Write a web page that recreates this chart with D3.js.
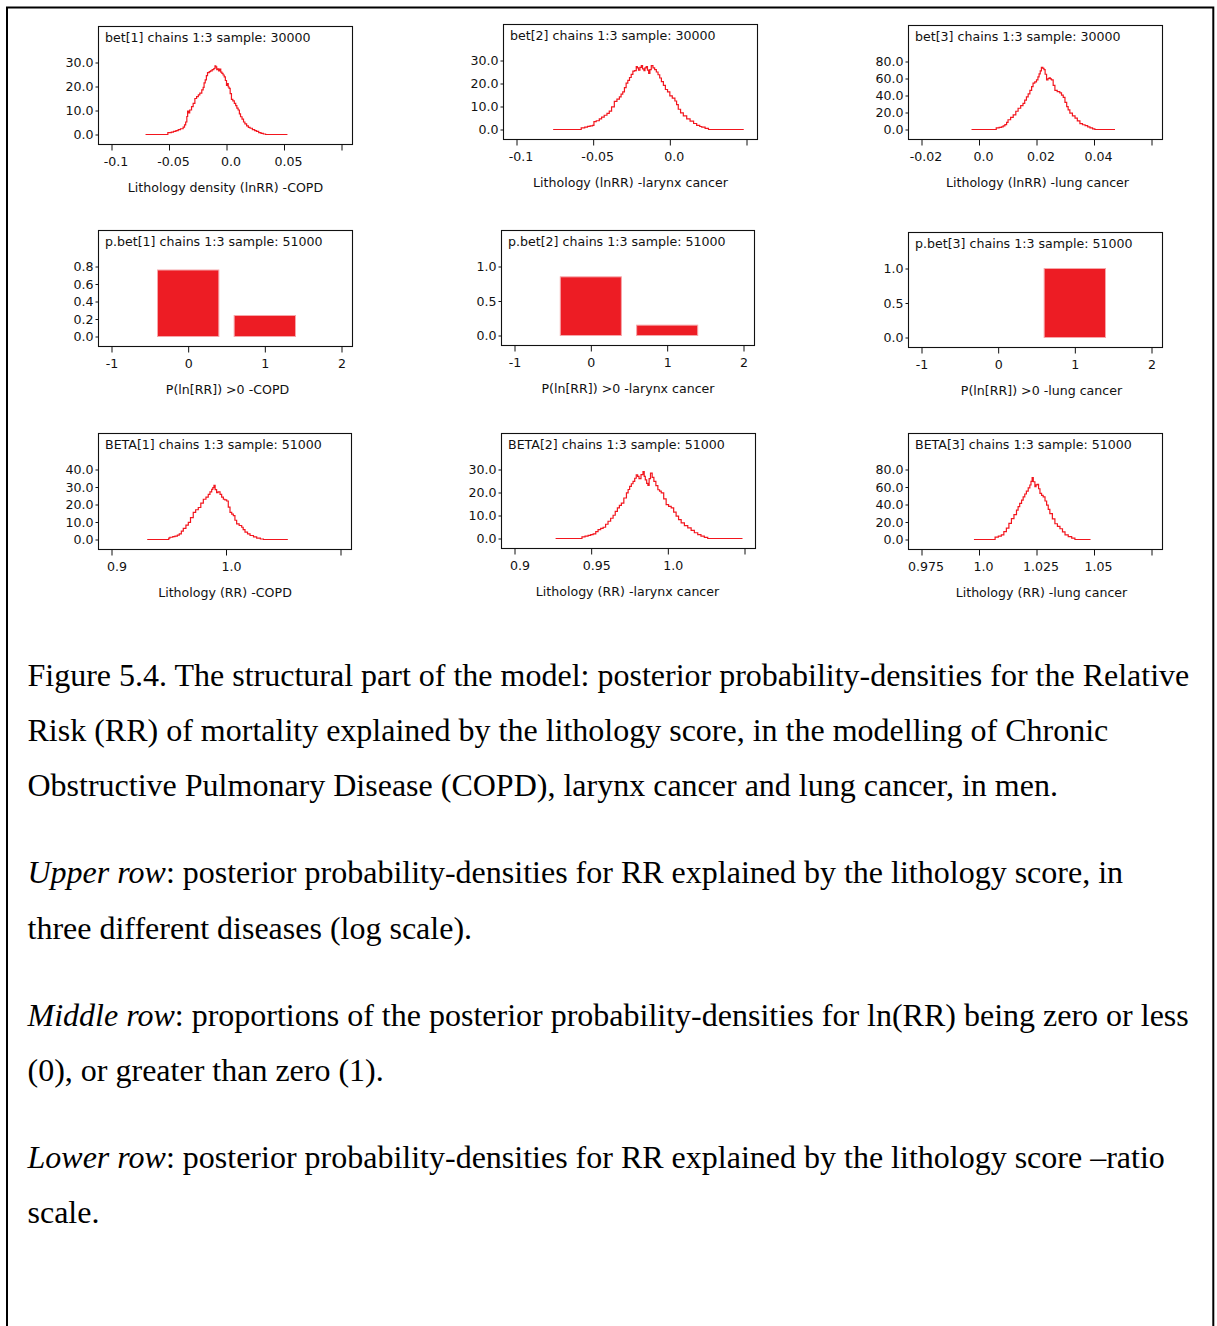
<!DOCTYPE html>
<html>
<head>
<meta charset="utf-8">
<script src="https://cdn.jsdelivr.net/npm/d3@7"></script>
<style>
  body { margin: 0; background: #fff; }
  svg { display: block; }
</style>
</head>
<body>
<svg id="fig" width="1217" height="1326"></svg>
<script>
// ---- Posterior densities, ln(RR) scale: [value, density] ----
const bet1Density = [[-0.0704,0],[-0.0513,0],[-0.0510,0.8],[-0.0480,1.0],[-0.0461,1.3],[-0.0440,1.6],[-0.0420,2.0],[-0.0400,2.4],[-0.0377,3.1],[-0.0365,4.0],[-0.0355,5.2],[-0.0345,7.5],[-0.0338,9.8],[-0.0330,9.0],[-0.0320,10.2],[-0.0304,11.6],[-0.0290,13.0],[-0.0275,15.0],[-0.0260,15.8],[-0.0245,16.5],[-0.0232,17.2],[-0.0215,18.6],[-0.0203,19.6],[-0.0195,21.5],[-0.0185,22.8],[-0.0175,24.5],[-0.0165,25.8],[-0.0150,26.2],[-0.0139,26.5],[-0.0125,27.0],[-0.0110,27.5],[-0.0100,28.6],[-0.0093,28.2],[-0.0085,27.0],[-0.0078,27.4],[-0.0068,26.5],[-0.0058,27.3],[-0.0050,26.0],[-0.0040,25.5],[-0.0030,24.8],[-0.0020,24.0],[-0.0010,22.5],[0.0000,20.5],[0.0008,21.2],[0.0015,19.8],[0.0023,19.2],[0.0032,17.0],[0.0043,14.6],[0.0055,14.0],[0.0068,13.0],[0.0080,12.0],[0.0090,11.0],[0.0101,10.2],[0.0112,8.6],[0.0122,7.4],[0.0135,6.4],[0.0148,5.2],[0.0160,4.4],[0.0175,3.6],[0.0190,3.0],[0.0205,2.6],[0.0225,2.0],[0.0245,1.6],[0.0261,1.3],[0.0280,0.8],[0.0300,0.5],[0.0320,0.2],[0.0340,0],[0.0530,0]];

const bet2Density = [[-0.0761,0],[-0.0581,0],[-0.0578,0.7],[-0.0555,1.0],[-0.0537,1.4],[-0.0520,1.6],[-0.0504,1.8],[-0.0495,3.4],[-0.0480,3.8],[-0.0460,4.6],[-0.0445,5.4],[-0.0428,6.2],[-0.0410,7.0],[-0.0395,8.0],[-0.0380,9.8],[-0.0362,12.2],[-0.0345,13.2],[-0.0329,14.2],[-0.0318,15.4],[-0.0307,16.4],[-0.0296,18.2],[-0.0285,20.2],[-0.0274,21.4],[-0.0263,22.6],[-0.0252,24.0],[-0.0241,25.4],[-0.0230,25.6],[-0.0219,27.4],[-0.0212,26.8],[-0.0204,25.8],[-0.0195,27.0],[-0.0186,27.8],[-0.0178,26.4],[-0.0169,25.6],[-0.0162,26.8],[-0.0154,27.4],[-0.0146,25.8],[-0.0138,24.4],[-0.0130,26.0],[-0.0121,27.8],[-0.0110,26.8],[-0.0099,26.0],[-0.0088,25.0],[-0.0077,23.8],[-0.0066,22.4],[-0.0055,20.8],[-0.0042,19.2],[-0.0029,17.4],[-0.0015,16.4],[0.0000,14.6],[0.0016,13.6],[0.0033,12.4],[0.0044,10.8],[0.0055,8.8],[0.0070,7.2],[0.0088,5.9],[0.0110,4.6],[0.0132,3.6],[0.0155,2.6],[0.0175,1.8],[0.0195,1.3],[0.0208,1.0],[0.0230,0.5],[0.0252,0],[0.0482,0]];

const bet3Density = [[-0.0026,0],[0.0058,0],[0.0060,1.9],[0.0070,2.4],[0.0078,3.0],[0.0084,4.2],[0.0090,5.8],[0.0096,8.5],[0.0101,11.5],[0.0110,14.2],[0.0119,17.3],[0.0128,21.5],[0.0136,25.0],[0.0145,28.0],[0.0153,30.8],[0.0159,34.5],[0.0165,38.5],[0.0171,42.0],[0.0177,46.0],[0.0183,50.5],[0.0188,54.6],[0.0194,56.0],[0.0200,58.5],[0.0205,62.0],[0.0209,65.4],[0.0213,69.0],[0.0217,73.0],[0.0222,72.0],[0.0226,70.5],[0.0230,65.0],[0.0235,58.5],[0.0240,60.0],[0.0244,60.8],[0.0248,59.5],[0.0252,58.5],[0.0258,52.0],[0.0264,46.0],[0.0272,44.5],[0.0281,43.0],[0.0287,40.5],[0.0293,37.7],[0.0299,32.0],[0.0305,27.0],[0.0310,23.0],[0.0316,19.2],[0.0325,16.0],[0.0334,13.5],[0.0342,10.2],[0.0351,6.9],[0.0360,5.6],[0.0369,4.6],[0.0378,3.0],[0.0386,1.9],[0.0395,0.8],[0.0403,0],[0.0473,0]];

// ---- Posterior probability of ln(RR) > 0 (0 = no, 1 = yes) ----
const pCategories = [0, 1];
const pbet1Values = [0.76, 0.24];
const pbet2Values = [0.85, 0.15];
const pbet3Values = [0.0, 1.0];

// ---- Posterior densities, ratio (RR) scale ----
const beta1Density = [[0.9312,0],[0.9496,0],[0.9500,0.8],[0.9510,1.3],[0.9535,1.6],[0.9554,1.9],[0.9575,2.5],[0.9592,3.2],[0.9610,4.8],[0.9627,6.4],[0.9650,8.2],[0.9671,9.8],[0.9690,12.5],[0.9714,15.5],[0.9735,17.0],[0.9758,18.3],[0.9780,20.8],[0.9802,23.0],[0.9825,24.2],[0.9845,25.8],[0.9860,27.2],[0.9875,28.7],[0.9885,29.6],[0.9895,30.9],[0.9905,28.5],[0.9918,26.8],[0.9930,27.2],[0.9948,25.8],[0.9962,24.2],[0.9977,23.0],[0.9990,22.6],[1.0006,22.0],[1.0020,18.5],[1.0035,15.5],[1.0050,14.5],[1.0064,13.6],[1.0078,11.0],[1.0093,8.9],[1.0115,8.0],[1.0137,7.0],[1.0150,5.6],[1.0166,4.2],[1.0188,3.2],[1.0210,2.3],[1.0240,1.5],[1.0268,0.8],[1.0300,0.3],[1.0327,0],[1.0540,0]];

const beta2Density = [[0.9268,0],[0.9437,0],[0.9440,0.7],[0.9460,1.0],[0.9480,1.4],[0.9497,1.7],[0.9513,2.0],[0.9530,3.0],[0.9545,3.9],[0.9562,4.4],[0.9578,4.9],[0.9594,6.2],[0.9610,7.5],[0.9627,8.8],[0.9643,10.1],[0.9657,11.8],[0.9671,13.3],[0.9684,14.4],[0.9697,15.4],[0.9713,17.6],[0.9730,19.8],[0.9741,21.3],[0.9751,22.7],[0.9762,23.8],[0.9773,24.8],[0.9784,26.2],[0.9794,27.7],[0.9803,27.0],[0.9812,26.0],[0.9825,27.8],[0.9838,29.1],[0.9846,27.0],[0.9853,25.5],[0.9862,24.0],[0.9870,23.1],[0.9878,26.0],[0.9887,28.4],[0.9898,26.6],[0.9909,24.8],[0.9922,23.0],[0.9935,21.2],[0.9946,20.6],[0.9957,19.8],[0.9973,17.2],[0.9989,14.7],[1.0005,14.0],[1.0022,13.3],[1.0038,11.5],[1.0054,9.7],[1.0070,8.2],[1.0087,6.8],[1.0108,5.6],[1.0130,4.6],[1.0152,3.5],[1.0173,2.5],[1.0195,1.7],[1.0216,1.0],[1.0238,0.5],[1.0260,0],[1.0487,0]];

const beta3Density = [[0.9978,0],[1.0068,0],[1.0070,2.7],[1.0084,3.8],[1.0097,5.4],[1.0108,9.0],[1.0119,13.0],[1.0130,18.5],[1.0141,23.8],[1.0152,28.5],[1.0163,33.5],[1.0170,37.5],[1.0177,41.2],[1.0185,45.0],[1.0192,48.8],[1.0199,52.0],[1.0206,55.4],[1.0214,59.0],[1.0221,62.3],[1.0226,66.5],[1.0231,70.8],[1.0236,66.0],[1.0243,60.4],[1.0248,62.5],[1.0253,63.0],[1.0259,58.0],[1.0265,52.7],[1.0272,50.5],[1.0279,48.8],[1.0287,44.0],[1.0294,39.2],[1.0301,34.5],[1.0308,29.6],[1.0319,23.5],[1.0330,18.0],[1.0341,15.0],[1.0352,12.3],[1.0363,8.8],[1.0374,5.4],[1.0388,3.2],[1.0403,1.5],[1.0417,0],[1.0485,0]];

// ---- Panel headers and axis titles ----
const panelTitles = [
  "bet[1] chains 1:3 sample: 30000", "bet[2] chains 1:3 sample: 30000", "bet[3] chains 1:3 sample: 30000",
  "p.bet[1] chains 1:3 sample: 51000", "p.bet[2] chains 1:3 sample: 51000", "p.bet[3] chains 1:3 sample: 51000",
  "BETA[1] chains 1:3 sample: 51000", "BETA[2] chains 1:3 sample: 51000", "BETA[3] chains 1:3 sample: 51000"
];
const axisTitles = [
  "Lithology density (lnRR) -COPD", "Lithology (lnRR) -larynx cancer", "Lithology (lnRR) -lung cancer",
  "P(ln[RR]) >0 -COPD", "P(ln[RR]) >0  -larynx cancer", "P(ln[RR]) >0 -lung cancer",
  "Lithology (RR) -COPD", "Lithology (RR) -larynx cancer", "Lithology (RR) -lung cancer"
];

// ---- Tick values and labels ----
const yTicks = [
  [0, 10, 20, 30], [0, 10, 20, 30], [0, 20, 40, 60, 80],
  [0, 0.2, 0.4, 0.6, 0.8], [0, 0.5, 1.0], [0, 0.5, 1.0],
  [0, 10, 20, 30, 40], [0, 10, 20, 30], [0, 20, 40, 60, 80]
];
const xTicks = [
  [-0.1, -0.05, 0, 0.05, 0.1], [-0.1, -0.05, 0, 0.05], [-0.02, 0, 0.02, 0.04, 0.06],
  [-1, 0, 1, 2], [-1, 0, 1, 2], [-1, 0, 1, 2],
  [0.9, 1.0, 1.1], [0.9, 0.95, 1.0, 1.05], [0.975, 1.0, 1.025, 1.05, 1.075]
];
const xTickLabels = [
  ["-0.1", "-0.05", "0.0", "0.05", ""], ["-0.1", "-0.05", "0.0", ""], ["-0.02", "0.0", "0.02", "0.04", ""],
  ["-1", "0", "1", "2"], ["-1", "0", "1", "2"], ["-1", "0", "1", "2"],
  ["0.9", "1.0", ""], ["0.9", "0.95", "1.0", ""], ["0.975", "1.0", "1.025", "1.05", ""]
];

// ---- Caption ----
const captionLines = [
  [["", "Figure 5.4. The structural part of the model: posterior probability-densities for the Relative"]],
  [["", "Risk (RR) of mortality explained by the lithology score, in the modelling of Chronic"]],
  [["", "Obstructive Pulmonary Disease (COPD), larynx cancer and lung cancer, in men."]],
  [["i", "Upper row"], ["", ": posterior probability-densities for RR explained by the lithology score, in"]],
  [["", "three different diseases (log scale)."]],
  [["i", "Middle row"], ["", ": proportions of the posterior probability-densities for ln(RR) being zero or less"]],
  [["", "(0), or greater than zero (1)."]],
  [["i", "Lower row"], ["", ": posterior probability-densities for RR explained by the lithology score \u2013ratio"]],
  [["", "scale."]]
];
const captionBaselines = [686, 741, 796, 883, 939, 1026, 1081, 1168, 1223];

// ---- Layout ----
// box: [left, top, width, height]; labelDx nudges decimal tick labels; titleDx nudges the axis title
const panelLayout = [
  { box: [98, 26, 254, 118], labelDx: 4, titleDx: 0 },
  { box: [503, 24, 254, 115], labelDx: 4, titleDx: 0 },
  { box: [908, 25, 254, 114], labelDx: 4, titleDx: 2 },
  { box: [98, 230, 254, 116], labelDx: 0, titleDx: 2 },
  { box: [501, 230, 253, 115], labelDx: 0, titleDx: 0 },
  { box: [908, 232, 254, 115], labelDx: 0, titleDx: 6 },
  { box: [98, 433, 253, 116], labelDx: 5, titleDx: 0 },
  { box: [501, 433, 254, 115], labelDx: 5, titleDx: -1 },
  { box: [908, 433, 254, 116], labelDx: 4, titleDx: 6 }
];

const panelData = [
  { type: "line", data: bet1Density }, { type: "line", data: bet2Density }, { type: "line", data: bet3Density },
  { type: "bar", data: pbet1Values }, { type: "bar", data: pbet2Values }, { type: "bar", data: pbet3Values },
  { type: "line", data: beta1Density }, { type: "line", data: beta2Density }, { type: "line", data: beta3Density }
];

const RED_LINE = "#f2161e";
const RED_BAR = "#ed1c24";
const UI_FONT = "'DejaVu Sans', Verdana, sans-serif";
const UI_SIZE = 12.6;

const svg = d3.select("#fig");

// Page frame
svg.append("path")
  .attr("d", "M7,1340 V7.5 H1213.3 V1340")
  .attr("fill", "none")
  .attr("stroke", "#000")
  .attr("stroke-width", 2);

panelLayout.forEach((layout, i) => {
  const [left, top, w, h] = layout.box;
  const g = svg.append("g").attr("transform", `translate(${left + 0.5},${top + 0.5})`);

  const ticksX = xTicks[i];
  const x = d3.scaleLinear()
    .domain([ticksX[0], ticksX[ticksX.length - 1]])
    .range([13, w - 11]);
  const ticksY = yTicks[i];
  const y = d3.scaleLinear()
    .domain([0, ticksY[ticksY.length - 1]])
    .range([h - 10, 36]);

  // marks
  const pd = panelData[i];
  if (pd.type === "line") {
    const line = d3.line()
      .x(d => x(d[0]))
      .y(d => y(d[1]))
      .curve(d3.curveStepAfter);
    g.append("path")
      .datum(pd.data)
      .attr("d", line)
      .attr("fill", "none")
      .attr("stroke", RED_LINE)
      .attr("stroke-width", 1.2);
  } else {
    g.selectAll("rect.bar")
      .data(pCategories.map((c, k) => ({ c, v: pd.data[k] })).filter(d => d.v > 0))
      .join("rect")
      .attr("class", "bar")
      .attr("x", d => x(d.c - 0.4))
      .attr("width", d => x(d.c + 0.4) - x(d.c - 0.4))
      .attr("y", d => y(d.v))
      .attr("height", d => y(0) - y(d.v))
      .attr("fill", RED_BAR)
      .attr("stroke", "#f6a6a9")
      .attr("stroke-width", 1);
  }

  // frame
  g.append("rect")
    .attr("x", 0).attr("y", 0)
    .attr("width", w).attr("height", h)
    .attr("fill", "none")
    .attr("stroke", "#111")
    .attr("stroke-width", 1.1);

  // header inside frame
  g.append("text")
    .attr("x", 6.5).attr("y", 15.5)
    .attr("font-family", UI_FONT).attr("font-size", UI_SIZE)
    .attr("fill", "#111")
    .text(panelTitles[i]);

  // y axis
  const yAxis = d3.axisLeft(y)
    .tickValues(ticksY)
    .tickFormat(d3.format(".1f"))
    .tickSize(3)
    .tickSizeOuter(0)
    .tickPadding(2);
  const gy = g.append("g").call(yAxis);
  gy.select(".domain").remove();
  gy.selectAll("text").attr("font-family", UI_FONT).attr("font-size", UI_SIZE).attr("fill", "#111");
  gy.selectAll("line").attr("stroke", "#111");

  // x axis
  const labels = xTickLabels[i];
  const xAxis = d3.axisBottom(x)
    .tickValues(ticksX)
    .tickFormat((d, k) => labels[k])
    .tickSize(6)
    .tickSizeOuter(0)
    .tickPadding(7);
  const gx = g.append("g").attr("transform", `translate(0,${h})`).call(xAxis);
  gx.select(".domain").remove();
  gx.selectAll("text")
    .attr("font-family", UI_FONT).attr("font-size", UI_SIZE).attr("fill", "#111")
    .attr("dx", layout.labelDx);
  gx.selectAll("line").attr("stroke", "#111");

  // axis title
  g.append("text")
    .attr("x", w / 2 + layout.titleDx)
    .attr("y", h + 47.5)
    .attr("text-anchor", "middle")
    .attr("font-family", UI_FONT).attr("font-size", UI_SIZE)
    .attr("fill", "#111")
    .text(axisTitles[i]);
});

// caption paragraphs
const cap = svg.append("g")
  .attr("font-family", "'Liberation Serif', 'Times New Roman', serif")
  .attr("font-size", 32)
  .attr("fill", "#000");
captionLines.forEach((parts, k) => {
  const t = cap.append("text").attr("x", 27.5).attr("y", captionBaselines[k]);
  parts.forEach(([style, str]) => {
    t.append("tspan")
      .attr("font-style", style === "i" ? "italic" : "normal")
      .text(str);
  });
});
</script>
</body>
</html>
